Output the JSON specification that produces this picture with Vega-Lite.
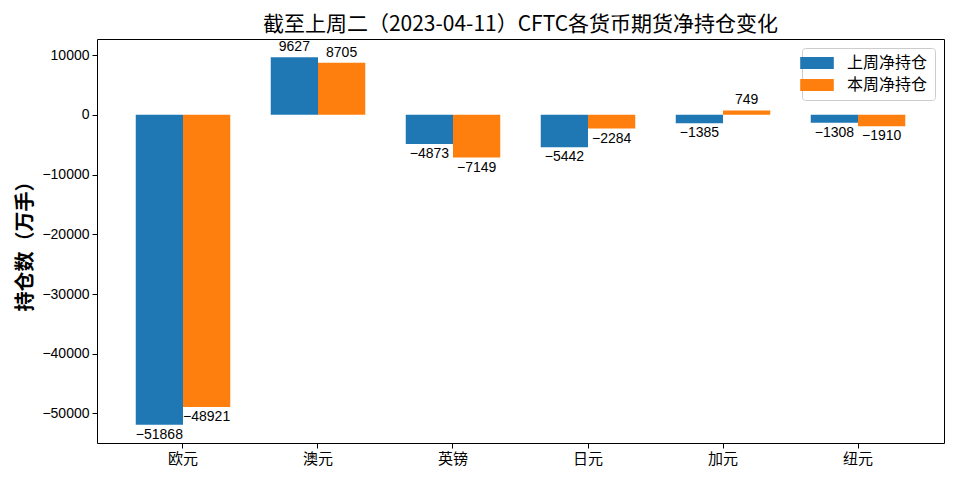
{
  "$schema": "https://vega.github.io/schema/vega-lite/v6.json",
  "width": 847,
  "height": 404,
  "autosize": {"type": "none"},
  "padding": {"left": 97, "top": 39, "right": 16, "bottom": 39},
  "background": "white",
  "title": {
    "text": "截至上周二（2023-04-11）CFTC各货币期货净持仓变化",
    "font": "Noto Sans CJK SC",
    "fontSize": 21,
    "fontWeight": "normal",
    "color": "black",
    "anchor": "middle",
    "offset": 4
  },
  "data": {
    "values": [
      {"currency": "欧元", "series": "上周净持仓", "value": -51868},
      {"currency": "欧元", "series": "本周净持仓", "value": -48921},
      {"currency": "澳元", "series": "上周净持仓", "value": 9627},
      {"currency": "澳元", "series": "本周净持仓", "value": 8705},
      {"currency": "英镑", "series": "上周净持仓", "value": -4873},
      {"currency": "英镑", "series": "本周净持仓", "value": -7149},
      {"currency": "日元", "series": "上周净持仓", "value": -5442},
      {"currency": "日元", "series": "本周净持仓", "value": -2284},
      {"currency": "加元", "series": "上周净持仓", "value": -1385},
      {"currency": "加元", "series": "本周净持仓", "value": 749},
      {"currency": "纽元", "series": "上周净持仓", "value": -1308},
      {"currency": "纽元", "series": "本周净持仓", "value": -1910}
    ]
  },
  "encoding": {
    "x": {
      "field": "currency",
      "type": "nominal",
      "sort": null,
      "title": null,
      "scale": {"paddingInner": 0.3, "paddingOuter": 0.287},
      "axis": {
        "labelAngle": 0,
        "labelFont": "Noto Sans CJK SC",
        "labelFontSize": 15,
        "labelColor": "black",
        "labelPadding": 3,
        "tickSize": 5,
        "tickColor": "black",
        "domain": false,
        "grid": false
      }
    },
    "xOffset": {
      "field": "series",
      "type": "nominal",
      "sort": ["上周净持仓", "本周净持仓"],
      "scale": {"paddingInner": 0, "paddingOuter": 0}
    },
    "y": {
      "field": "value",
      "type": "quantitative",
      "scale": {"domain": [-54943, 12702], "nice": false, "zero": false},
      "axis": {
        "values": [-50000, -40000, -30000, -20000, -10000, 0, 10000],
        "format": "d",
        "labelFont": "Liberation Sans",
        "labelFontSize": 14,
        "labelColor": "black",
        "labelPadding": 3,
        "tickSize": 5,
        "tickColor": "black",
        "domain": false,
        "grid": false,
        "title": "持仓数（万手）",
        "titleFont": "Noto Sans CJK SC",
        "titleFontSize": 20,
        "titleFontWeight": "bold",
        "titleColor": "black",
        "titleAngle": -90,
        "titleX": -72,
        "titleY": 202,
        "titleAlign": "center",
        "titleBaseline": "middle"
      }
    }
  },
  "layer": [
    {
      "mark": {"type": "bar"},
      "encoding": {
        "color": {
          "field": "series",
          "type": "nominal",
          "sort": ["上周净持仓", "本周净持仓"],
          "scale": {"range": ["#1f77b4", "#ff7f0e"]},
          "legend": {
            "title": null,
            "orient": "top-right",
            "offset": 9,
            "fillColor": "white",
            "strokeColor": "#cccccc",
            "cornerRadius": 3,
            "padding": 7,
            "symbolType": "M-2.1,-0.75H2.1V0.75H-2.1Z",
            "symbolSize": 256,
            "symbolStrokeWidth": 0,
            "symbolOpacity": 1,
            "labelFont": "Noto Sans CJK SC",
            "labelFontSize": 16,
            "labelColor": "black",
            "labelOffset": 22,
            "rowPadding": 6
          }
        }
      }
    },
    {
      "transform": [{"filter": "datum.value >= 0"}],
      "mark": {"type": "text", "baseline": "bottom", "dy": -3, "font": "Liberation Sans", "fontSize": 14, "color": "black"},
      "encoding": {"text": {"field": "value", "type": "quantitative", "format": "d"}}
    },
    {
      "transform": [{"filter": "datum.value < 0"}],
      "mark": {"type": "text", "baseline": "top", "dy": 3, "font": "Liberation Sans", "fontSize": 14, "color": "black"},
      "encoding": {"text": {"field": "value", "type": "quantitative", "format": "d"}}
    }
  ],
  "config": {
    "view": {"stroke": "black", "strokeWidth": 1}
  }
}
